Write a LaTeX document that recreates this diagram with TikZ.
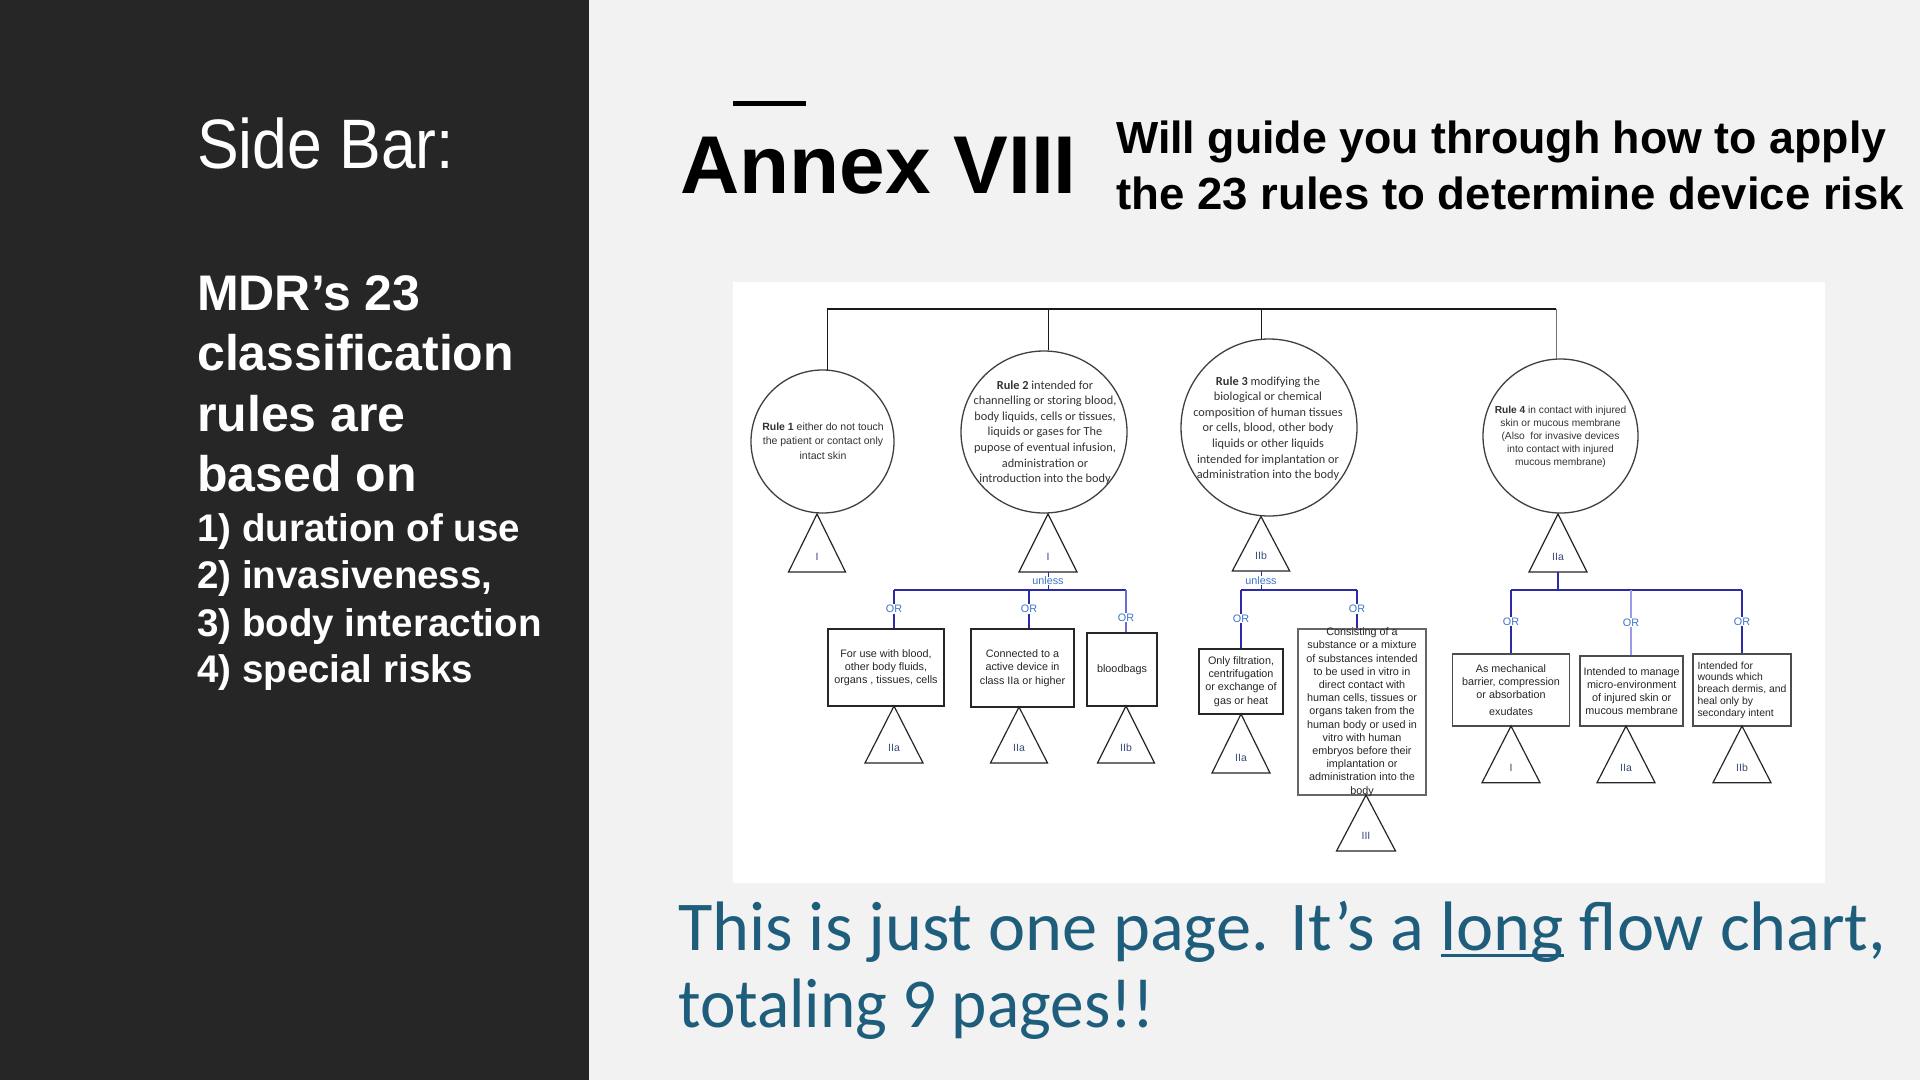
\documentclass[tikz,border=0pt]{standalone}
\usepackage{fontspec}
\usepackage{graphicx}
\setmainfont{Liberation Sans}
\newfontfamily\arialf{Liberation Sans}
\newfontfamily\calibf{Carlito}
\newfontfamily\handf{Carlito}
\usetikzlibrary{shapes.geometric}
\definecolor{sidebg}{HTML}{262626}
\definecolor{pagebg}{HTML}{F2F2F2}
\definecolor{lblcol}{HTML}{3B4A78}
\definecolor{orblue}{HTML}{3D74C8}
\definecolor{linkblue}{HTML}{2B2BA8}
\definecolor{midblue}{HTML}{6A6AD8}
\definecolor{lightlink}{HTML}{9A9AE8}
\definecolor{handblue}{HTML}{1E5E7C}
\newlength\ulwd
\newcommand\myul[1]{\settowidth{\ulwd}{#1}\makebox[0pt][l]{\rule[-0.1em]{\ulwd}{0.045em}}#1}
\tikzset{
  trishape/.style={draw=black!85, line width=1.2pt, line join=miter},
  trilbl/.style={font=\arialf\fontsize{10.5}{12}\selectfont, text=lblcol, inner sep=0pt},
  rulecirc/.style={ellipse, draw=black!75, line width=1.3pt, inner sep=0pt},
  circtxt/.style={align=center, text=black!80, inner sep=0pt},
  cbox/.style={rectangle, draw=black!85, line width=1.5pt, inner sep=0pt, align=center, text=black!85},
  boxtxt/.style={font=\arialf\fontsize{10.8}{13.2}\selectfont},
  treeline/.style={draw=black!90, line width=1.5pt},
  branch/.style={draw=linkblue, line width=1.6pt},
  thinblue/.style={draw=linkblue, line width=0.8pt},
  orlbl/.style={font=\arialf\fontsize{10.8}{12}\selectfont, text=orblue, fill=white, inner sep=1pt},
  unlesslbl/.style={font=\arialf\fontsize{10.8}{12}\selectfont, text=orblue, fill=white, inner sep=0.5pt},
  sidebold/.style={anchor=base west, inner sep=0pt, text=white, font=\arialf\bfseries\fontsize{50}{60}\selectfont},
  sidenum/.style={anchor=base west, inner sep=0pt, text=white, font=\arialf\bfseries\fontsize{38.5}{44}\selectfont},
  subt/.style={anchor=base west, inner sep=0pt, text=black, font=\arialf\bfseries\fontsize{45}{54}\selectfont},
  hand/.style={anchor=base west, inner sep=0pt, text=handblue, font=\handf\fontsize{70}{80}\selectfont},
}
% name, apex x, apex y, base y, half width, label
\newcommand\mytri[6]{%
  \coordinate (#1a) at (#2,#3);
  \coordinate (#1b) at (#2,#4);
  \draw[trishape] (#1a) -- (#2-#5,#4) -- (#2+#5,#4) -- cycle;
  \node[trilbl] (#1) at (#2,#4-15) {#6};
}
\begin{document}
\begin{tikzpicture}[x=1pt,y=-1pt]
\useasboundingbox (0,0) rectangle (1920,1080);
\fill[pagebg] (0,0) rectangle (1920,1080);
\fill[sidebg] (0,0) rectangle (589,1080);
\fill[white] (733,282) rectangle (1825,883);

% ---------- side bar ----------
\node[anchor=base west, inner sep=0pt, text=white, font=\arialf\fontsize{70}{80}\selectfont] (sb) at (197,168) {\resizebox{257pt}{\height}{Side Bar:}};
\node[sidebold] (m1) at (197,310) {MDR’s 23};
\node[sidebold] (m2) at (197,370) {classification};
\node[sidebold] (m3) at (197,431) {rules are};
\node[sidebold] (m4) at (197,491) {based on};
\node[sidenum] (n1) at (197,541) {1) duration of use};
\node[sidenum] (n2) at (197,588) {2) invasiveness,};
\node[sidenum] (n3) at (197,636) {3) body interaction};
\node[sidenum] (n4) at (197,682) {4) special risks};

% ---------- title ----------
\coordinate (dashL) at (733,103);
\coordinate (dashR) at (806,103);
\draw[line width=5pt] (dashL) -- (dashR);
\node[anchor=base west, inner sep=0pt, font=\arialf\bfseries\fontsize{82}{90}\selectfont] (title) at (680,193) {Annex VIII};
\node[subt] (sub1) at (1116,153) {\resizebox{770pt}{\height}{Will guide you through how to apply}};
\node[subt] (sub2) at (1116,209.5) {\resizebox{788pt}{\height}{the 23 rules to determine device risk}};

% ---------- rule circles ----------
\coordinate (topy) at (0,309);
\node[rulecirc, minimum width=143, minimum height=143] (r1) at (822.5,441.5) {};
\node[rulecirc, minimum width=166, minimum height=162] (r2) at (1044,432) {};
\node[rulecirc, minimum width=176, minimum height=177] (r3) at (1269,427.5) {};
\node[rulecirc, minimum width=155, minimum height=154] (r4) at (1560.5,436) {};

\node[circtxt, font=\arialf\fontsize{10.5}{14.5}\selectfont] (r1t) at (823,441) {\textbf{Rule 1} either do not touch\\the patient or contact only\\intact skin};
\node[circtxt, font=\calibf\fontsize{12.3}{15.6}\selectfont] (r2t) at (1045,432.5) {\textbf{Rule 2} intended for\\channelling or storing blood,\\body liquids, cells or tissues,\\liquids or gases for The\\pupose of eventual infusion,\\administration or\\introduction into the body};
\node[circtxt, font=\calibf\fontsize{12.3}{15.6}\selectfont] (r3t) at (1268,428.5) {\textbf{Rule 3} modifying the\\biological or chemical\\composition of human tissues\\or cells, blood, other body\\liquids or other liquids\\intended for implantation or\\administration into the body};
\node[circtxt, font=\arialf\fontsize{10.2}{13}\selectfont] (r4t) at (1560.5,436.5) {\textbf{Rule 4} in contact with injured\\skin or mucous membrane\\(Also\ \ for invasive devices\\into contact with injured\\mucous membrane)};

\draw[treeline] (r1.86) -- (r1.86 |- topy) -- (r4.93 |- topy);
\draw[treeline, draw=black!55] (r4.93 |- topy) -- (r4.93);
\draw[treeline] (r2.87) -- (r2.87 |- topy);
\draw[treeline, line width=1pt] (r3.95) -- (r3.95 |- topy);

\mytri{t1}{817}{514}{572}{28.5}{I}
\mytri{t2}{1048}{514}{572}{29}{I}
\mytri{t3}{1261}{516.5}{571}{28.7}{IIb}
\mytri{t4}{1558}{514}{572}{29}{IIa}

% ---------- rule 2 branch ----------
\node[cbox, boxtxt, minimum width=116, minimum height=77] (bA) at (886,667.5) {For use with blood,\\other body fluids,\\organs , tissues, cells};
\node[cbox, boxtxt, minimum width=103, minimum height=78] (bB) at (1022.5,668) {Connected to a\\active device in\\class IIa or higher};
\node[cbox, boxtxt, minimum width=70, minimum height=73] (bC) at (1122,669.5) {bloodbags};
\coordinate (j2) at (1048,590);
\coordinate (a1) at (894,590);
\coordinate (a2) at (1029,590);
\coordinate (a3) at (1126,590);
\draw[thinblue] (t2b) -- (j2) node[midway, unlesslbl] (u2) {unless};
\draw[branch] (a1) -- (a3);
\draw[branch] (a1) -- (a1 |- bA.north) node[pos=0.5, orlbl] (oA) {OR};
\draw[branch] (a2) -- (a2 |- bB.north) node[pos=0.5, orlbl] (oB) {OR};
\draw[branch, draw=midblue] (a3) -- (a3 |- bC.north) node[pos=0.65, orlbl] (oC) {OR};
\mytri{tA}{894}{706}{763}{29}{IIa}
\mytri{tB}{1019}{707}{763}{28.5}{IIa}
\mytri{tC}{1126}{706}{763}{28.5}{IIb}

% ---------- rule 3 branch ----------
\node[cbox, boxtxt, minimum width=84, minimum height=65] (bD) at (1241,681.5) {Only filtration,\\centrifugation\\or exchange of\\gas or heat};
\node[cbox, draw=black!60, minimum width=128, minimum height=166] (bE) at (1362,712) {};
\node[boxtxt, align=center, inner sep=0pt, text=black!85] (bEt) at (1362,712) {Consisting of a\\substance or a mixture\\of substances intended\\to be used in vitro in\\direct contact with\\human cells, tissues or\\organs taken from the\\human body or used in\\vitro with human\\embryos before their\\implantation or\\administration into the\\body};
\coordinate (j3) at (1261,590);
\coordinate (c1) at (1241,590);
\coordinate (c2) at (1357,590);
\draw[thinblue] (t3b) -- (j3) node[midway, unlesslbl] (u3) {unless};
\draw[branch] (c1) -- (c2);
\draw[branch] (c1) -- (c1 |- bD.north) node[pos=0.49, orlbl] (oD) {OR};
\draw[branch] (c2) -- (c2 |- bE.north) node[pos=0.5, orlbl] (oE) {OR};
\mytri{tD}{1241}{714}{773}{29}{IIa}
\mytri{tE}{1366}{795}{851}{29.5}{III}

% ---------- rule 4 branch ----------
\node[cbox, boxtxt, draw=black!70, minimum width=117, minimum height=72] (bF) at (1511,690) {As mechanical\\barrier, compression\\or absorbation\\[4pt]exudates};
\node[cbox, boxtxt, draw=black!70, minimum width=103, minimum height=70] (bG) at (1631.7,691) {Intended to manage\\micro-environment\\of injured skin or\\mucous membrane};
\node[cbox, draw=black!70, align=left, font=\arialf\fontsize{10.4}{11.8}\selectfont, minimum width=98, minimum height=72] (bH) at (1742,690) {Intended for\\wounds which\\breach dermis, and\\heal only by\\secondary intent};
\coordinate (j4) at (1558,590);
\coordinate (e1) at (1511,590);
\coordinate (e2) at (1631,590);
\coordinate (e3) at (1742,590);
\draw[branch, line width=2pt] (t4b) -- (j4);
\draw[branch] (e1) -- (e3);
\draw[branch] (e1) -- (e1 |- bF.north) node[midway, orlbl] (oF) {OR};
\draw[branch, draw=lightlink, line width=1.2pt] (e2) -- (e2 |- bG.north) node[midway, orlbl] (oG) {OR};
\draw[branch] (e3) -- (e3 |- bH.north) node[midway, orlbl] (oH) {OR};
\mytri{tF}{1511}{726}{782.7}{29}{I}
\mytri{tG}{1626}{726}{782.7}{29}{IIa}
\mytri{tH}{1742}{726}{782.7}{29}{IIb}

% ---------- handwritten note ----------
\node[hand] (hw1) at (678,950) {\resizebox{1208pt}{\height}{This is just one page. It’s a \myul{long} flow chart,}};
\node[hand] (hw2) at (678,1027) {\resizebox{476pt}{\height}{totaling 9 pages!!}};
\end{tikzpicture}
\end{document}
